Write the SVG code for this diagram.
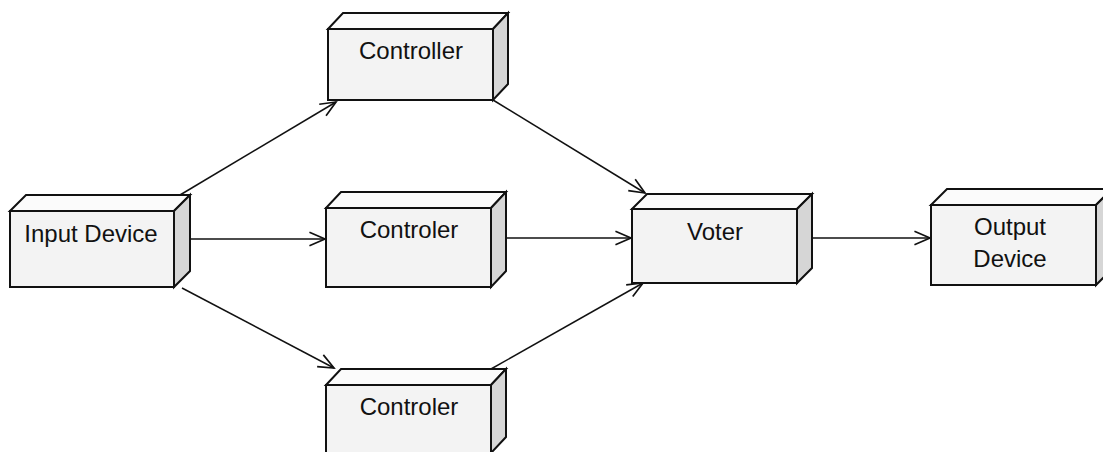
<svg xmlns="http://www.w3.org/2000/svg" width="1103" height="452" viewBox="0 0 1103 452">
<style>
.front{fill:#f3f3f3;stroke:#111;stroke-width:2}
.top{fill:#fbfbfb;stroke:#111;stroke-width:2;stroke-linejoin:miter}
.side{fill:#d6d6d6;stroke:#111;stroke-width:2}
.lbl{font-family:"Liberation Sans",Arial,sans-serif;font-size:24px;fill:#111;text-anchor:middle}
.edge{stroke:#111;stroke-width:1.5;fill:none;marker-end:url(#arr)}
</style>
<defs>
<marker id="arr" markerUnits="userSpaceOnUse" markerWidth="20" markerHeight="20" refX="0" refY="0" viewBox="-16 -8 18 16" orient="auto" overflow="visible">
<path d="M-14,-6 L0,0 L-14,6" fill="none" stroke="#111" stroke-width="1.5"/>
</marker>
</defs>
<rect width="1103" height="452" fill="#fff"/>
<g id="connectors">
<line class="edge" x1="180" y1="195" x2="336" y2="102"/>
<line class="edge" x1="493" y1="100" x2="645" y2="193"/>
<line class="edge" x1="190" y1="239" x2="325" y2="239"/>
<line class="edge" x1="506" y1="238" x2="631" y2="238"/>
<line class="edge" x1="182" y1="288" x2="334" y2="368"/>
<line class="edge" x1="491" y1="369" x2="643" y2="283"/>
<line class="edge" x1="812" y1="238" x2="930" y2="238"/>
</g>
<g id="input-device">
<path class="top" d="M10,211 L26,195 L190,195 L174,211 Z"/>
<path class="side" d="M174,211 L190,195 L190,271 L174,287 Z"/>
<rect class="front" x="10" y="211" width="164" height="76"/>
<text class="lbl" x="91" y="242">Input Device</text>
</g>
<g id="controller-top">
<path class="top" d="M328,29 L343,13 L508,13 L493,29 Z"/>
<path class="side" d="M493,29 L508,13 L508,84 L493,100 Z"/>
<rect class="front" x="328" y="29" width="165" height="71"/>
<text class="lbl" x="411" y="59">Controller</text>
</g>
<g id="controler-middle">
<path class="top" d="M326,208 L341,192 L506,192 L491,208 Z"/>
<path class="side" d="M491,208 L506,192 L506,271 L491,287 Z"/>
<rect class="front" x="326" y="208" width="165" height="79"/>
<text class="lbl" x="409" y="238">Controler</text>
</g>
<g id="controler-bottom">
<path class="top" d="M326,385 L341,369 L506,369 L491,385 Z"/>
<path class="side" d="M491,385 L506,369 L506,437 L491,453 Z"/>
<rect class="front" x="326" y="385" width="165" height="68"/>
<text class="lbl" x="409" y="415">Controler</text>
</g>
<g id="voter">
<path class="top" d="M632,209 L647,194 L812,194 L797,209 Z"/>
<path class="side" d="M797,209 L812,194 L812,268 L797,283 Z"/>
<rect class="front" x="632" y="209" width="165" height="74"/>
<text class="lbl" x="715" y="240">Voter</text>
</g>
<g id="output-device">
<path class="top" d="M931,205 L947,189 L1112,189 L1096,205 Z"/>
<path class="side" d="M1096,205 L1112,189 L1112,269 L1096,285 Z"/>
<rect class="front" x="931" y="205" width="165" height="80"/>
<text class="lbl" x="1010" y="235">Output</text>
<text class="lbl" x="1010" y="267">Device</text>
</g>
</svg>
